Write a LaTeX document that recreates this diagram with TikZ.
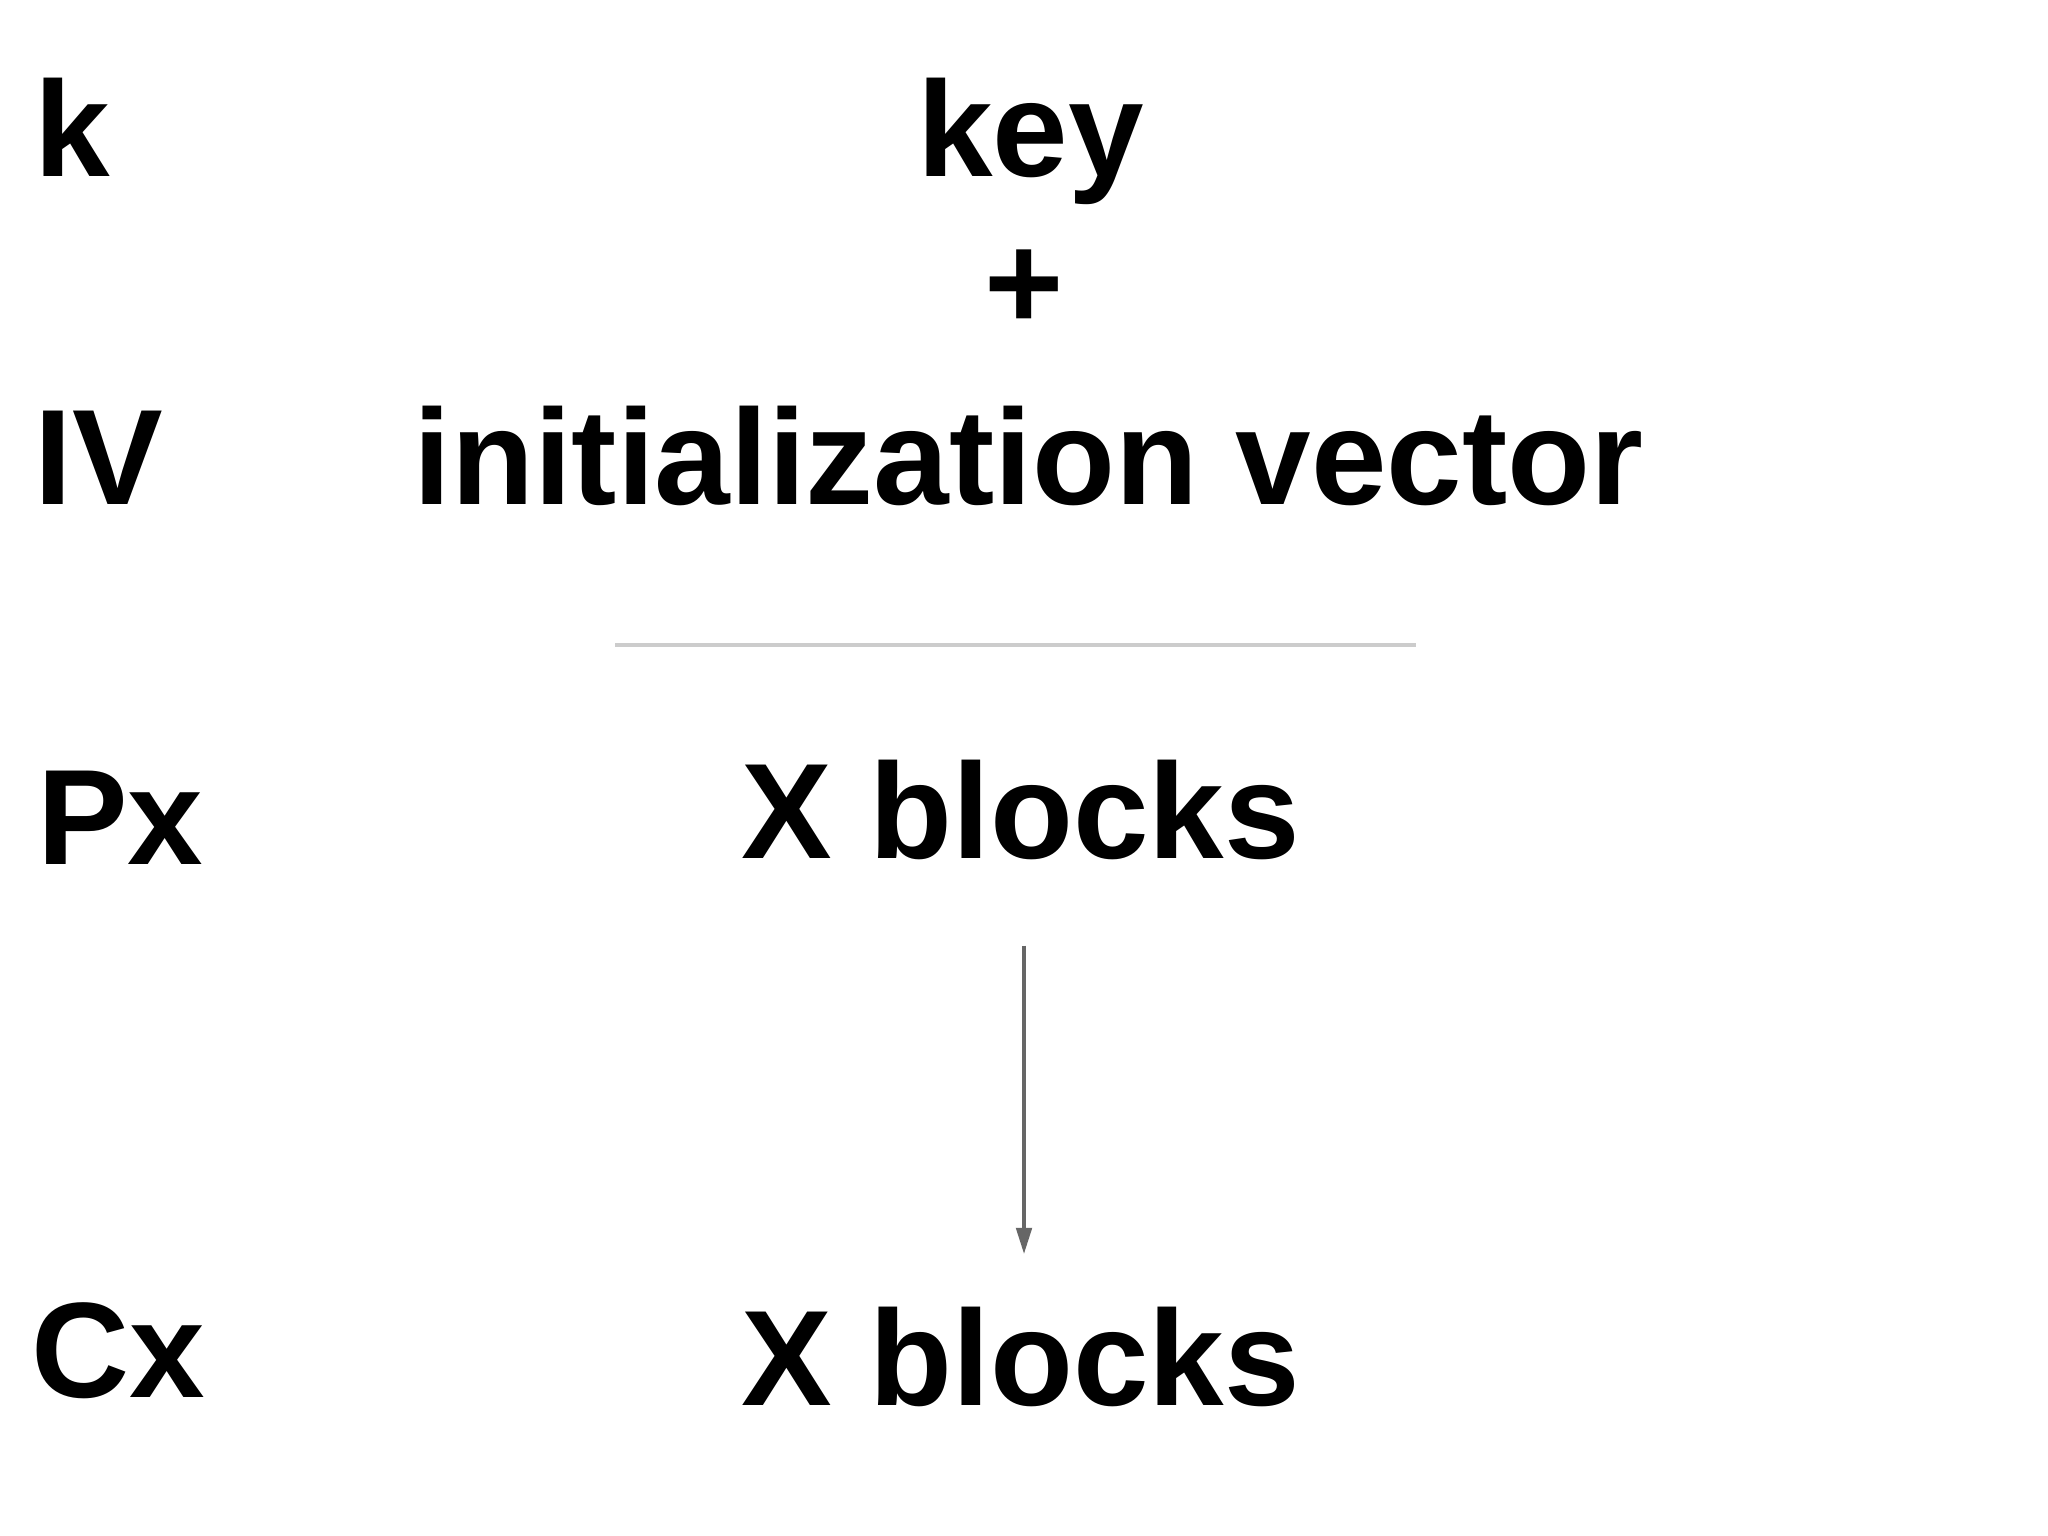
\documentclass[tikz,border=0pt]{standalone}
\usepackage{fontspec}
\setmainfont{Liberation Sans}
\usetikzlibrary{arrows.meta}
\begin{document}
\begin{tikzpicture}[x=0.5pt,y=-0.5pt,
  lbl/.style={anchor=base west,inner sep=0pt,font=\fontsize{52}{60}\selectfont\bfseries}]
\useasboundingbox[fill=white] (0,0) rectangle (1568,1176);
\node[lbl] (k) at (26,135) {k};
\node[lbl] (key) at (702,135) {key};
\node[lbl,anchor=center] (plus) at (784,222) {+};
\node[lbl] (iv) at (26,386) {IV};
\node[lbl] (ivt) at (316,386) {initialization vector};
\coordinate (l1) at (471,494);
\coordinate (l2) at (1084,494);
\draw[line width=1.5pt,color=black!20] (l1) -- (l2);
\node[lbl] (px) at (28,662) {Px};
\node[lbl] (pb) at (567,657) {X blocks};
\node[lbl] (cx) at (24,1070) {Cx};
\node[lbl] (cb) at (567,1076) {X blocks};
\coordinate (a1) at (784,724);
\coordinate (a2) at (784,960);
\draw[line width=1.2pt,color=black!60,-{Triangle[width=6pt,length=10pt]}] (a1) -- (a2);
\end{tikzpicture}
\end{document}
